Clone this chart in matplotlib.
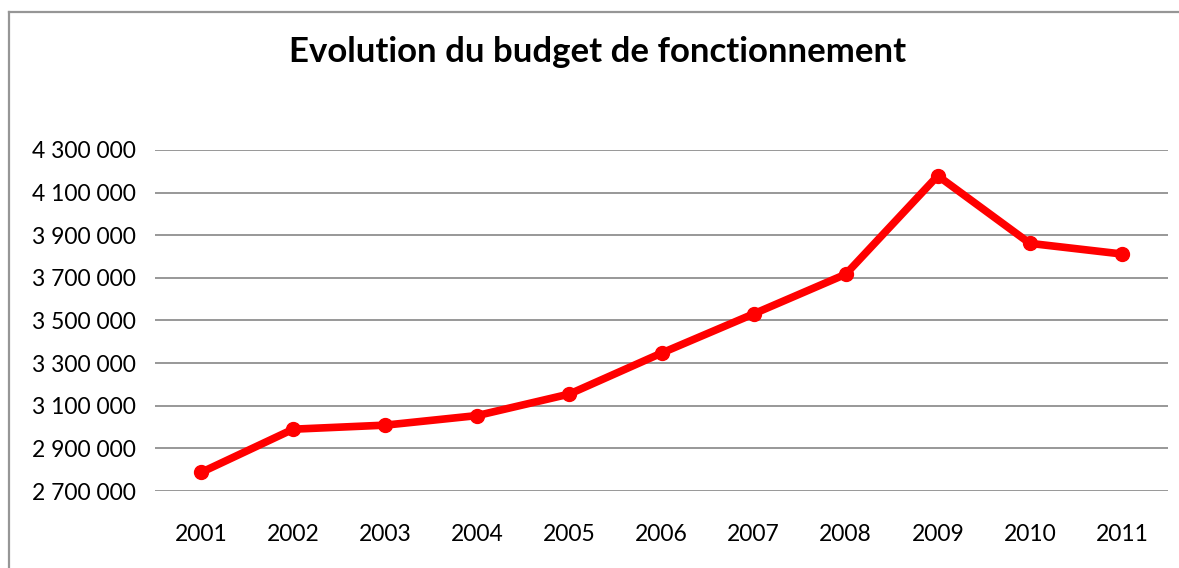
import matplotlib.pyplot as plt
from matplotlib.ticker import FuncFormatter
from matplotlib.lines import Line2D

# Budget de fonctionnement par annee
years = ["2001", "2002", "2003", "2004", "2005", "2006",
         "2007", "2008", "2009", "2010", "2011"]
budget = [2787000, 2990000, 3009000, 3054000, 3155000, 3347000,
          3531000, 3717000, 4179000, 3862000, 3812000]
y_ticks = [2700000, 2900000, 3100000, 3300000, 3500000,
           3700000, 3900000, 4100000, 4300000]

plt.rcParams['font.family'] = ['Lato', 'DejaVu Sans']

fig = plt.figure(figsize=(11.79, 5.68), dpi=100)
ax = fig.add_axes([155 / 1179, 77 / 568, 1013 / 1179, 341 / 568])

x = range(len(years))
ax.plot(x, budget, color="#FF0000", linewidth=5.5, marker="o",
        markersize=10, solid_capstyle="round", solid_joinstyle="round",
        zorder=3, clip_on=False)

ax.set_xlim(-0.5, len(years) - 0.5)
ax.set_ylim(y_ticks[0], y_ticks[-1])
ax.set_yticks(y_ticks)
ax.yaxis.set_major_formatter(
    FuncFormatter(lambda v, p: f"{v:,.0f}".replace(",", " ")))
ax.set_xticks(list(x))
ax.set_xticklabels(years)

ax.grid(axis="y", color="#868686", linewidth=1.2)
ax.set_axisbelow(True)
for s in ax.spines.values():
    s.set_visible(False)
ax.tick_params(length=0, labelsize=16.5, colors="black")
ax.tick_params(axis="y", pad=14)
ax.tick_params(axis="x", pad=24)

fig.text(598 / 1179, 1 - 52 / 568, "Evolution du budget de fonctionnement",
         ha="center", va="center", fontsize=25, fontweight="bold")

# chart border (cut off at right and bottom)
fig.add_artist(Line2D([8.5 / 1179, 8.5 / 1179], [0, 1 - 12 / 568],
                      transform=fig.transFigure, color="#969696", linewidth=1.6))
fig.add_artist(Line2D([8.5 / 1179, 1], [1 - 12 / 568, 1 - 12 / 568],
                      transform=fig.transFigure, color="#969696", linewidth=1.6))

plt.savefig("out.png", dpi=100)
